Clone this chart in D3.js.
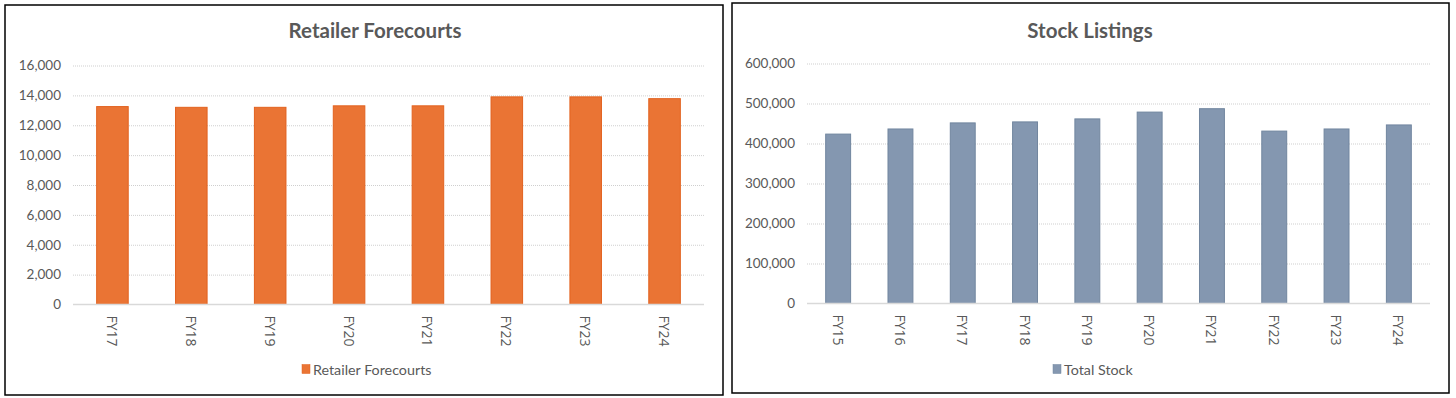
<!DOCTYPE html>
<html>
<head>
<meta charset="utf-8">
<script src="https://cdn.jsdelivr.net/npm/d3@7"></script>
<style>
  body { margin: 0; background: #fff; }
  svg { display: block; font-family: Lato, "Open Sans", sans-serif; }
</style>
</head>
<body>
<svg width="1456" height="398"></svg>
<script>
// Retailer Forecourts
const forecourtYears = ["FY17", "FY18", "FY19", "FY20", "FY21", "FY22", "FY23", "FY24"];
const forecourtValues = [13250, 13200, 13200, 13300, 13300, 13900, 13900, 13780];
const forecourtTicks = [0, 2000, 4000, 6000, 8000, 10000, 12000, 14000, 16000];

// Stock Listings
const stockYears = ["FY15", "FY16", "FY17", "FY18", "FY19", "FY20", "FY21", "FY22", "FY23", "FY24"];
const stockValues = [423500, 436300, 451500, 454000, 461500, 478500, 487000, 431000, 436300, 446400];
const stockTicks = [0, 100000, 200000, 300000, 400000, 500000, 600000];

const svg = d3.select("svg");
const textColor = "#595959";
const fmt = d3.format(",");

function drawPanel(opt) {
  const g = svg.append("g");

  // panel border
  g.append("rect")
    .attr("x", opt.box[0]).attr("y", opt.box[1])
    .attr("width", opt.box[2] - opt.box[0]).attr("height", opt.box[3] - opt.box[1])
    .attr("fill", "#fff").attr("stroke", "#000").attr("stroke-width", 1.5);

  const x = d3.scaleBand()
    .domain(opt.categories)
    .range([opt.left, opt.right])
    .paddingInner(0.6)
    .paddingOuter(0.3);

  const y = d3.scaleLinear()
    .domain([0, d3.max(opt.ticks)])
    .range([opt.bottom, opt.top]);

  // title
  g.append("text")
    .attr("x", opt.titleX).attr("y", 38)
    .attr("text-anchor", "middle")
    .attr("fill", textColor)
    .style("font-size", "20.5px").style("font-weight", "bold")
    .text(opt.title);

  // gridlines + y labels
  const yAxis = g.append("g")
    .attr("transform", `translate(${opt.left},0)`)
    .call(d3.axisLeft(y).tickValues(opt.ticks).tickFormat(fmt).tickSize(-(opt.right - opt.left)).tickPadding(12));
  yAxis.select(".domain").remove();
  yAxis.selectAll(".tick line")
    .attr("stroke", "#cfcfcf")
    .attr("stroke-dasharray", "1,1")
    .filter(d => d === 0).remove();
  yAxis.selectAll(".tick text")
    .attr("fill", textColor)
    .style("font-size", "13.5px")
    .style("font-family", "Lato, sans-serif");

  // bars
  g.selectAll(".bar")
    .data(opt.values)
    .enter()
    .append("rect")
    .attr("class", "bar")
    .attr("x", (d, i) => x(opt.categories[i]))
    .attr("y", d => y(d))
    .attr("width", x.bandwidth())
    .attr("height", d => y(0) - y(d))
    .attr("fill", opt.color)
    .attr("stroke", opt.edge)
    .attr("stroke-width", 1);

  // baseline
  g.append("line")
    .attr("x1", opt.left).attr("x2", opt.right)
    .attr("y1", y(0)).attr("y2", y(0))
    .attr("stroke", "#d9d9d9").attr("stroke-width", 1.5);

  // category labels, rotated
  g.selectAll(".cat")
    .data(opt.categories)
    .enter()
    .append("text")
    .attr("class", "cat")
    .attr("transform", d => `translate(${x(d) + x.bandwidth() / 2},${y(0) + 11}) rotate(90)`)
    .attr("dominant-baseline", "central")
    .attr("fill", textColor)
    .style("font-family", "'Open Sans', sans-serif")
    .style("font-size", "14px")
    .text(d => d);

  // legend
  const lg = g.append("g").attr("transform", `translate(${opt.legendX},369)`);
  lg.append("rect")
    .attr("x", 0).attr("y", -4.5).attr("width", 8).attr("height", 9)
    .attr("fill", opt.color).attr("stroke", opt.edge).attr("stroke-width", 0.5);
  lg.append("text")
    .attr("x", 11).attr("y", 0)
    .attr("dominant-baseline", "central")
    .attr("fill", textColor)
    .style("font-size", "14.3px")
    .text(opt.legend);
}

drawPanel({
  box: [5, 5, 723, 395],
  title: "Retailer Forecourts", titleX: 375,
  categories: forecourtYears, values: forecourtValues, ticks: forecourtTicks,
  left: 73, right: 704, top: 65.5, bottom: 304.5,
  color: "#ea7434", edge: "#e2621f",
  legend: "Retailer Forecourts", legendX: 302
});

drawPanel({
  box: [732, 3, 1449, 393],
  title: "Stock Listings", titleX: 1090,
  categories: stockYears, values: stockValues, ticks: stockTicks,
  left: 807, right: 1430, top: 63.5, bottom: 303.5,
  color: "#8497b0", edge: "#71869f",
  legend: "Total Stock", legendX: 1053
});
</script>
</body>
</html>
